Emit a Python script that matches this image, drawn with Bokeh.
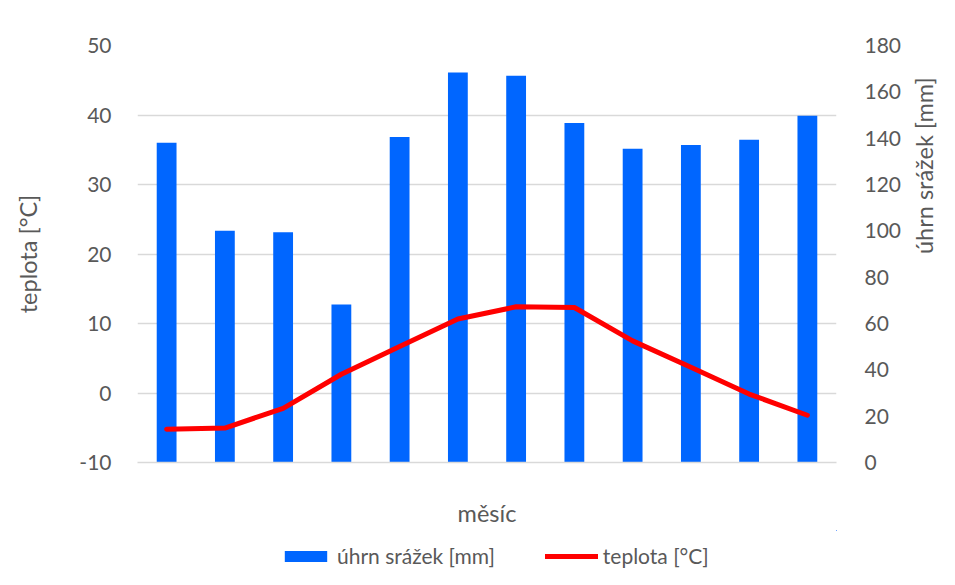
import math
from bokeh.plotting import figure
from bokeh.layouts import column
from bokeh.models import (Range1d, LinearAxis, Legend, LegendItem, FixedTicker,
                          ColumnDataSource, PrintfTickFormatter)
from bokeh.embed import file_html
from bokeh.resources import INLINE

# --- data ---
months = [1, 2, 3, 4, 5, 6, 7, 8, 9, 10, 11, 12]
srazky_mm = [138.0, 100.0, 99.4, 68.2, 140.5, 168.3, 166.9, 146.5, 135.4, 137.0, 139.3, 149.7]
teplota_c = [-5.2, -5.05, -2.2, 2.7, 6.7, 10.65, 12.4, 12.3, 7.5, 3.7, -0.15, -3.2]
left_ticks = [-10, 0, 10, 20, 30, 40, 50]
right_ticks = [0, 20, 40, 60, 80, 100, 120, 140, 160, 180]

FONT = "Lato"
TXT = "#595959"
GRID = "#d9d9d9"
BAR_COLOR = "#0066FF"
LINE_COLOR = "#FF0000"

src = ColumnDataSource(dict(m=months, mm=srazky_mm, t=teplota_c))

p = figure(width=955, height=530, output_backend="svg", toolbar_location=None,
           x_range=Range1d(0.5, 12.5), y_range=Range1d(-10, 50),
           min_border_left=137, min_border_right=117, min_border_top=45, min_border_bottom=68)
p.extra_y_ranges = {"mm": Range1d(0, 180)}
p.outline_line_color = None
p.background_fill_color = "white"
p.border_fill_color = "white"

bars = p.vbar(x="m", top="mm", bottom=0, width=0.34, source=src, y_range_name="mm",
              fill_color=BAR_COLOR, line_color=None)
line = p.line(x="m", y="t", source=src, line_color=LINE_COLOR, line_width=5,
              line_join="round", line_cap="round")

# x axis
xa = p.xaxis[0]
xa.ticker = FixedTicker(ticks=[])
xa.axis_label = "měsíc"
xa.axis_line_color = GRID
xa.axis_line_width = 1.5
xa.major_tick_line_color = None
xa.minor_tick_line_color = None
xa.major_label_standoff = 0
xa.axis_label_standoff = 36
xa.axis_label_text_font = FONT
xa.axis_label_text_font_size = "23.5px"
xa.axis_label_text_font_style = "normal"
xa.axis_label_text_color = TXT

# left axis
ya = p.yaxis[0]
ya.ticker = FixedTicker(ticks=left_ticks)
ya.formatter = PrintfTickFormatter(format="%d")
ya.axis_label = "teplota [°C]"
ya.axis_line_color = None
ya.major_tick_line_color = None
ya.minor_tick_line_color = None
ya.major_label_standoff = 20
ya.major_label_text_font = FONT
ya.major_label_text_font_size = "21px"
ya.major_label_text_color = TXT
ya.axis_label_standoff = 34
ya.axis_label_text_font = FONT
ya.axis_label_text_font_size = "23.5px"
ya.axis_label_text_font_style = "normal"
ya.axis_label_text_color = TXT

# right axis
ra = LinearAxis(y_range_name="mm", ticker=FixedTicker(ticks=right_ticks))
ra.formatter = PrintfTickFormatter(format="%d")
ra.axis_label = "úhrn srážek [mm]"
ra.axis_line_color = None
ra.major_tick_line_color = None
ra.minor_tick_line_color = None
ra.major_label_standoff = 22
ra.major_label_text_font = FONT
ra.major_label_text_font_size = "21px"
ra.major_label_text_color = TXT
ra.axis_label_standoff = 20
ra.axis_label_text_font = FONT
ra.axis_label_text_font_size = "23.5px"
ra.axis_label_text_font_style = "normal"
ra.axis_label_text_color = TXT
if "axis_label_orientation" in ra.properties():
    ra.axis_label_orientation = math.pi / 2
p.add_layout(ra, "right")

p.xgrid.visible = False
p.ygrid.ticker = FixedTicker(ticks=left_ticks)
p.ygrid.grid_line_color = GRID
p.ygrid.grid_line_width = 1.5

# legend strip below the chart (same series, drawn out of view; only the legend shows)
pl = figure(width=955, height=55, output_backend="svg", toolbar_location=None,
            x_range=Range1d(-100, -99), y_range=Range1d(-100, -99),
            x_axis_location=None, y_axis_location=None,
            min_border_left=0, min_border_right=0, min_border_top=0, min_border_bottom=0)
pl.outline_line_color = None
pl.grid.visible = False
pl.background_fill_color = "white"
pl.border_fill_color = "white"
lbars = pl.vbar(x="m", top="mm", bottom=0, width=0.34, source=src,
                fill_color=BAR_COLOR, line_color=None)
lline = pl.line(x="m", y="t", source=src, line_color=LINE_COLOR, line_width=5,
                line_cap="round")

legend = Legend(items=[LegendItem(label="úhrn srážek [mm]", renderers=[lbars]),
                       LegendItem(label="teplota [°C]", renderers=[lline])],
                orientation="horizontal", location=(142, 17),
                glyph_width=53, glyph_height=14, label_standoff=5, spacing=50,
                border_line_color=None, background_fill_alpha=0,
                label_text_font=FONT, label_text_font_size="21px", label_text_color=TXT,
                padding=0, margin=0)
pl.add_layout(legend, "center")

layout = column(p, pl, spacing=0)
open("out.html", "w").write(file_html(layout, INLINE))
